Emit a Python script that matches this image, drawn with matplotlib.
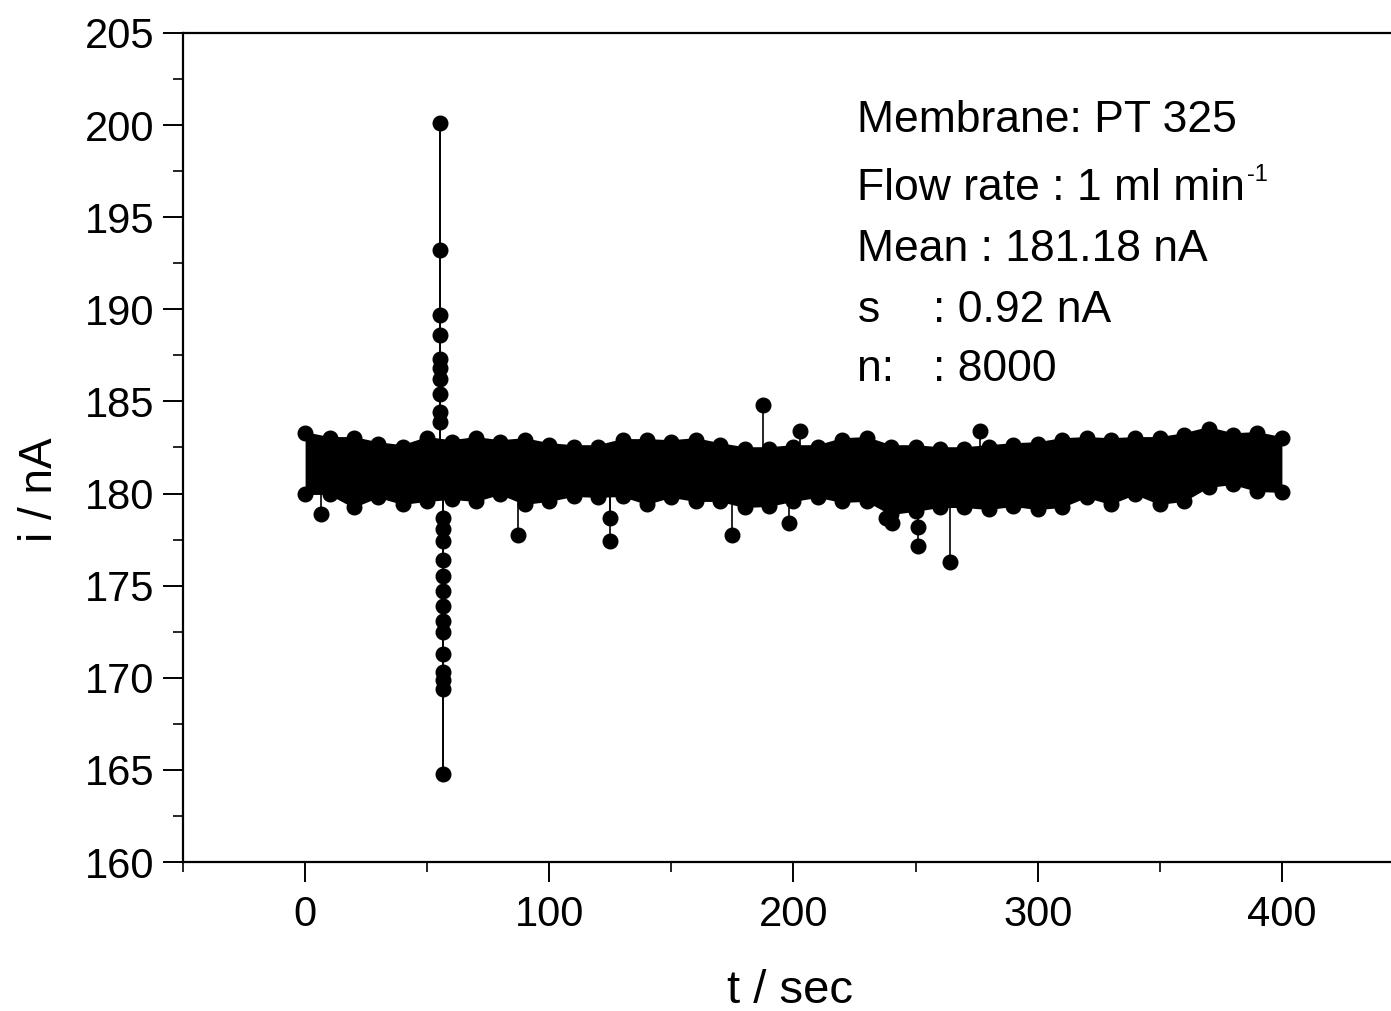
import numpy as np
import matplotlib
matplotlib.use("Agg")
import matplotlib.pyplot as plt
from matplotlib.ticker import MultipleLocator

plt.rcParams['font.family'] = ['Liberation Sans', 'DejaVu Sans']

# ---- data ----
# envelope of the dense noise band (centres of the outermost points)
env_t = [0, 10, 20, 30, 40, 50, 60, 70, 80, 90, 100, 110, 120, 130, 140, 150, 160, 170, 180, 190,
         200, 210, 220, 230, 240, 250, 260, 270, 280, 290, 300, 310, 320, 330, 340, 350, 360, 370,
         380, 390, 400]
env_upper = [183.26, 182.99, 182.99, 182.71, 182.55, 182.99, 182.82, 182.99, 182.82, 182.93,
             182.66, 182.55, 182.55, 182.88, 182.88, 182.82, 182.93, 182.66, 182.44, 182.44,
             182.55, 182.55, 182.93, 182.99, 182.55, 182.55, 182.44, 182.44, 182.55, 182.66,
             182.71, 182.93, 182.99, 182.93, 182.99, 182.99, 183.20, 183.53, 183.20, 183.26,
             182.99]
env_lower = [180.00, 180.00, 179.29, 179.84, 179.46, 179.62, 179.73, 179.62, 180.00, 179.46,
             179.62, 179.89, 179.84, 179.89, 179.46, 179.84, 179.62, 179.62, 179.29, 179.35,
             179.62, 179.84, 179.57, 179.62, 178.91, 179.08, 179.29, 179.29, 179.18, 179.35,
             179.18, 179.29, 179.84, 179.46, 180.00, 179.46, 179.62, 180.38, 180.54, 180.16,
             180.11]

# spike around t = 56 s
spike_up_t = 55.2
spike_up = [183.9, 184.4, 185.4, 186.2, 186.8, 187.3, 188.6, 189.7, 193.2, 200.1]
spike_down_t = 56.4
spike_down = [178.7, 178.1, 177.4, 176.4, 175.5, 174.7, 173.9, 173.1, 172.5, 171.3,
              170.3, 169.9, 169.4, 164.8]

# isolated outliers
out_t = [6.5, 87.0, 125.0, 125.0, 175.0, 187.6, 198.0, 202.8, 238.0, 240.4, 251.0, 251.0,
         264.0, 276.5]
out_v = [178.9, 177.75, 178.65, 177.45, 177.75, 184.8, 178.4, 183.4, 178.65, 178.4, 178.2,
         177.15, 176.3, 183.4]

mean_val = 181.18

info_lines = ["Membrane: PT 325", "Flow rate : 1 ml min", "Mean : 181.18 nA"]
flow_sup = "-1"
s_label, s_val = "s", ": 0.92 nA"
n_label, n_val = "n:", ": 8000"

# ---- figure ----
W, H = 1391, 1011
fig = plt.figure(figsize=(W / 100, H / 100), dpi=100)
ax = fig.add_axes([183 / W, 1 - 862 / H, (1404 - 183) / W, (862 - 33) / H])
ax.set_xlim(-50, 450)
ax.set_ylim(160, 205)

ms = 10.5
# stems from band to outliers
for t, v in zip(out_t, out_v):
    ax.plot([t, t], [mean_val, v], color='black', lw=1.2, zorder=2)
ax.plot([spike_up_t] * (len(spike_up) + 1), [mean_val] + spike_up, color='black', lw=1.4,
        marker='o', ms=ms, markevery=list(range(1, len(spike_up) + 1)), zorder=3)
ax.plot([spike_down_t] * (len(spike_down) + 1), [mean_val] + spike_down, color='black', lw=1.4,
        marker='o', ms=ms, markevery=list(range(1, len(spike_down) + 1)), zorder=3)
ax.plot(out_t, out_v, linestyle='none', marker='o', ms=ms, color='black', zorder=3)

# dense band
ax.fill_between(env_t, env_lower, env_upper, color='black', lw=0, zorder=2)
ax.plot(env_t, env_upper, color='black', marker='o', ms=ms, lw=2, zorder=3)
ax.plot(env_t, env_lower, color='black', marker='o', ms=ms, lw=2, zorder=3)

# axes styling
for sp in ['left', 'bottom', 'top']:
    ax.spines[sp].set_linewidth(1.6)
ax.spines['right'].set_visible(False)
ax.xaxis.set_major_locator(MultipleLocator(100))
ax.xaxis.set_minor_locator(MultipleLocator(50))
ax.yaxis.set_major_locator(MultipleLocator(5))
ax.yaxis.set_minor_locator(MultipleLocator(2.5))
ax.tick_params(which='major', direction='out', length=14.5, width=1.4, labelsize=30)
ax.tick_params(which='minor', direction='out', length=7, width=1.2)
ax.tick_params(axis='y', which='major', pad=6)
ax.tick_params(axis='x', which='major', pad=9)

fig.text(790 / W, 1 - 991 / H, "t / sec", fontsize=34, ha='center', va='center')
fig.text(40 / W, 1 - 490 / H, "i / nA", fontsize=33, ha='center', va='center', rotation=90)

# annotation text
fs = 32
x0 = 226.2
xc = 257.3
baselines = [199.6, 195.95, 192.62, 189.31, 186.11]
txts = []
for txt, yb in zip(info_lines, baselines[:3]):
    txts.append(ax.text(x0, yb, txt, fontsize=fs, ha='left', va='baseline'))
ax.annotate(flow_sup, xy=(1, 1), xycoords=txts[1], xytext=(1, 3), textcoords='offset points',
            fontsize=17, ha='left', va='top')
ax.text(x0, baselines[3], s_label, fontsize=fs, ha='left', va='baseline')
ax.text(xc, baselines[3], s_val, fontsize=fs, ha='left', va='baseline')
ax.text(x0, baselines[4], n_label, fontsize=fs, ha='left', va='baseline')
ax.text(xc, baselines[4], n_val, fontsize=fs, ha='left', va='baseline')

fig.savefig("out.png", dpi=100)
